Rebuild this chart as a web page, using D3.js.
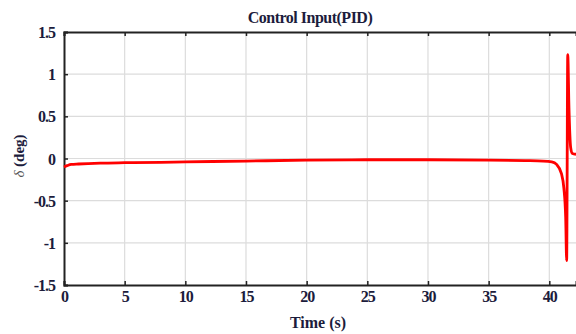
<!DOCTYPE html>
<html>
<head>
<meta charset="utf-8">
<script src="https://cdn.jsdelivr.net/npm/d3@7"></script>
<style>
  body { margin: 0; background: #fff; }
  svg { display: block; }
</style>
</head>
<body>
<script>
// values
const time = [0, 0.25, 0.6, 1.2, 2, 3, 5, 8, 10, 15, 20, 25, 30, 35, 38, 39.5, 40.2, 40.6, 41.0, 41.2, 41.35, 41.43, 41.52, 41.62, 41.76, 41.9, 42.2];
const delta = [-0.1, -0.085, -0.07, -0.065, -0.06, -0.055, -0.05, -0.045, -0.04, -0.03, -0.02, -0.015, -0.015, -0.02, -0.025, -0.03, -0.04, -0.07, -0.18, -0.35, -0.7, -1.21, 1.23, 0.6, 0.13, 0.06, 0.05];
const xTicks = [0, 5, 10, 15, 20, 25, 30, 35, 40];
const yTicks = [-1.5, -1, -0.5, 0, 0.5, 1, 1.5];
const yTickLabels = ["-1.5", "-1", "-0.5", "0", "0.5", "1", "1.5"];

const width = 576, height = 334;
const margin = { top: 32, right: 0, bottom: 49, left: 64 };
const serif = "'Liberation Serif', 'Times New Roman', serif";

const x = d3.scaleLinear().domain([0, 42.2]).range([margin.left, width - margin.right]);
const y = d3.scaleLinear().domain([-1.5, 1.5]).range([height - margin.bottom, margin.top]);

const svg = d3.select("body").append("svg")
  .attr("width", width)
  .attr("height", height)
  .style("font-family", serif);

// grid
svg.append("g")
  .selectAll("line")
  .data(xTicks.slice(1))
  .join("line")
  .attr("x1", d => x(d)).attr("x2", d => x(d))
  .attr("y1", margin.top).attr("y2", height - margin.bottom)
  .attr("stroke", "#dcdcdc").attr("stroke-width", 1.2);

svg.append("g")
  .selectAll("line")
  .data(yTicks.slice(1, -1))
  .join("line")
  .attr("x1", margin.left).attr("x2", width)
  .attr("y1", d => y(d)).attr("y2", d => y(d))
  .attr("stroke", "#dcdcdc").attr("stroke-width", 1.2);

// axes
const tickColor = "#1c1c3c";
const xAxis = svg.append("g")
  .attr("transform", `translate(0,${height - margin.bottom})`)
  .call(d3.axisBottom(x).tickValues(xTicks).tickSize(-4).tickPadding(7).tickFormat(d3.format("d")));
const xTop = svg.append("g")
  .attr("transform", `translate(0,${margin.top})`)
  .call(d3.axisTop(x).tickValues(xTicks).tickSize(-4).tickFormat(""));
const yAxis = svg.append("g")
  .attr("transform", `translate(${margin.left},0)`)
  .call(d3.axisLeft(y).tickValues(yTicks).tickSize(-4).tickPadding(9)
    .tickFormat((d, i) => yTickLabels[i]));

[xAxis, xTop, yAxis].forEach(g => {
  g.attr("font-family", serif);
  g.select(".domain").attr("stroke", "#222").attr("stroke-width", 2);
  g.selectAll(".tick line").attr("stroke", "#222").attr("stroke-width", 1.5);
  g.selectAll(".tick text")
    .attr("fill", tickColor)
    .style("font-size", "16px")
    .style("font-weight", "bold")
    .style("letter-spacing", "-1px");
});
xAxis.selectAll(".tick text").attr("dy", "0.6em");
yAxis.selectAll(".tick text").attr("dy", "0.35em");

// the line
svg.append("path")
  .datum(time.map((t, i) => [t, delta[i]]))
  .attr("fill", "none")
  .attr("stroke", "#ff0000")
  .attr("stroke-width", 2.8)
  .attr("stroke-linejoin", "round")
  .attr("d", d3.line().x(d => x(d[0])).y(d => y(d[1])).curve(d3.curveMonotoneX));

// title and labels
svg.append("text")
  .attr("x", 310).attr("y", 23)
  .attr("text-anchor", "middle")
  .attr("fill", "#1c1c3c")
  .style("font-size", "16px").style("font-weight", "bold")
  .style("letter-spacing", "-0.5px")
  .text("Control Input(PID)");

svg.append("text")
  .attr("x", 318).attr("y", 328)
  .attr("text-anchor", "middle")
  .attr("fill", "#1c1c3c")
  .style("font-size", "16px").style("font-weight", "bold")
  .text("Time (s)");

const yl = svg.append("text")
  .attr("transform", "translate(24,156) rotate(-90)")
  .attr("text-anchor", "middle")
  .attr("fill", "#1c1c3c")
  .style("font-size", "15px");
yl.append("tspan").style("font-style", "italic").attr("fill", "#555").text("δ ");
yl.append("tspan").style("font-weight", "bold").text("(deg)");
</script>
</body>
</html>
